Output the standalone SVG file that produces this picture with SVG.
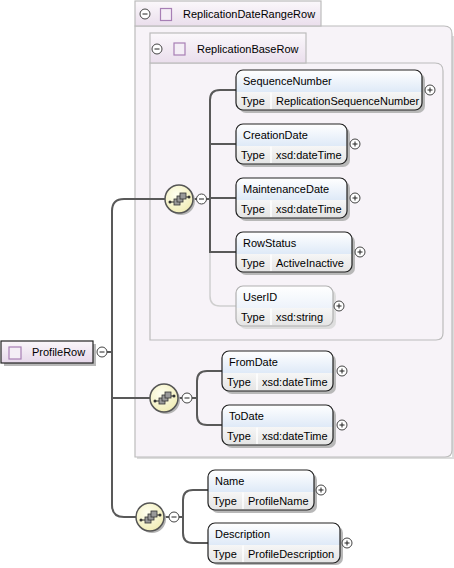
<svg xmlns="http://www.w3.org/2000/svg" width="454" height="568" viewBox="0 0 454 568">
<defs>
<linearGradient id="headG" x1="0" y1="0" x2="0" y2="1"><stop offset="0" stop-color="#ffffff"/><stop offset="1" stop-color="#c4d8f1"/></linearGradient>
<linearGradient id="headL" x1="0" y1="0" x2="0" y2="1"><stop offset="0" stop-color="#ffffff"/><stop offset="1" stop-color="#dfe9f7"/></linearGradient>
<linearGradient id="rowG" x1="0" y1="0" x2="0" y2="1"><stop offset="0" stop-color="#f6f6f6"/><stop offset="1" stop-color="#e4e4e4"/></linearGradient>
<linearGradient id="tabG" x1="0" y1="0" x2="0" y2="1"><stop offset="0" stop-color="#fbf8fb"/><stop offset="1" stop-color="#eadeec"/></linearGradient>
<linearGradient id="rootG" x1="0" y1="0" x2="0" y2="1"><stop offset="0" stop-color="#faf6fa"/><stop offset="1" stop-color="#e6d8ea"/></linearGradient>
<radialGradient id="seqG" cx="0.4" cy="0.35" r="0.7"><stop offset="0" stop-color="#fffff0"/><stop offset="1" stop-color="#f0ecb4"/></radialGradient>
<g id="seqIcon">
<circle cx="2" cy="2" r="14" fill="#b4b4b4"/>
<circle cx="0" cy="0" r="14" fill="url(#seqG)" stroke="#555" stroke-width="1.5"/>
<line x1="-9" y1="3" x2="-4" y2="3" stroke="#333" stroke-width="1"/>
<circle cx="-9" cy="3" r="1.5" fill="#333"/>
<rect x="-5" y="0" width="6" height="6" fill="#999" stroke="#333" stroke-width="0.8"/>
<rect x="-2" y="-3" width="6" height="6" fill="#999" stroke="#333" stroke-width="0.8"/>
<rect x="1" y="-6" width="6" height="6" fill="#999" stroke="#333" stroke-width="0.8"/>
<line x1="7" y1="-2" x2="10" y2="-2" stroke="#333" stroke-width="1"/>
<circle cx="10" cy="-2" r="1.5" fill="#333"/>
</g>
<g id="minus"><circle r="5" fill="#fff" stroke="#444" stroke-width="1"/><line x1="-2.5" y1="0" x2="2.5" y2="0" stroke="#222" stroke-width="1"/></g>
<g id="plus"><circle r="5" fill="#fff" stroke="#444" stroke-width="1"/><line x1="-2.5" y1="0" x2="2.5" y2="0" stroke="#222" stroke-width="1"/><line x1="0" y1="-2.5" x2="0" y2="2.5" stroke="#222" stroke-width="1"/></g>
</defs>
<style>
text{font-family:"Liberation Sans",Arial,sans-serif;font-size:11px;fill:#000}
.grp{fill:#f7f3f8;stroke:#bcbcbc;stroke-width:1.2}
.gsh{fill:none;stroke:#dcdcdc;stroke-width:2}
.tab{fill:url(#tabG);stroke:#bcbcbc;stroke-width:1.2}
.sq{fill:#f4eef6;stroke:#a77fb5;stroke-width:1.2}
.sh{fill:#b8b8b8}
.head{fill:url(#headG)}
.headL{fill:url(#headL)}
.row{fill:url(#rowG)}
.bd{fill:none;stroke:#222;stroke-width:1.2}
.bdL{fill:none;stroke:#b0b0b0;stroke-width:1.2}
.div{stroke:#fff;stroke-width:1.5}
.con{fill:none;stroke:#595959;stroke-width:2}
.conL{fill:none;stroke:#cfcfcf;stroke-width:1.5}
</style>

<g id="ReplicationDateRangeRow">
<path class="gsh" d="M453,36 V458 H137"/>
<path class="grp" d="M135,26 H444 Q452,26 452,34 V450 Q452,457 445,457 H135 Z"/>
<rect class="tab" x="135" y="1" width="186" height="25"/>
<use href="#minus" x="145" y="14"/>
<rect class="sq" x="160.5" y="8.5" width="11" height="12"/>
<text x="183" y="18">ReplicationDateRangeRow</text>
</g>

<g id="ReplicationBaseRow">
<path class="grp" d="M150,63 H435 Q443,63 443,71 V333 Q443,340 436,340 H150 Z"/>
<rect class="tab" x="150" y="33" width="156" height="30"/>
<use href="#minus" x="157" y="49"/>
<rect class="sq" x="174" y="43" width="11" height="12"/>
<text x="197" y="53">ReplicationBaseRow</text>
</g>

<g id="connectors">
<path class="con" d="M107,352 H112"/>
<path class="con" d="M165,199 H124 Q112,199 112,211 V505 Q112,517 124,517 H136"/>
<path class="con" d="M112,398 H150"/>
<path class="con" d="M193,199 H197 M206,199 H210"/>
<path class="con" d="M236,90 H220 Q210,90 210,100 V252 H236"/>
<path class="con" d="M210,144 H236 M210,198 H236"/>
<path class="conL" d="M210,253 V296 Q210,306 220,306 H236"/>
<path class="con" d="M178,398 H182 M192,398 H197"/>
<path class="con" d="M222,371 H207 Q197,371 197,381 V415 Q197,425 207,425 H222"/>
<path class="con" d="M164,517 H169 M179,517 H183"/>
<path class="con" d="M208,490 H193 Q183,490 183,500 V533 Q183,543 193,543 H208"/>
</g>

<g id="ProfileRow">
<rect class="sh" x="4" y="344" width="92" height="22"/>
<rect x="1" y="341" width="92" height="22" fill="url(#rootG)" stroke="#222" stroke-width="1.2"/>
<rect class="sq" x="9" y="347" width="12" height="12"/>
<text x="32" y="356">ProfileRow</text>
<use href="#minus" x="102" y="352"/>
</g>

<g id="seq1"><use href="#seqIcon" x="179" y="199"/><use href="#minus" x="201.5" y="199"/></g>
<g id="seq2"><use href="#seqIcon" x="164" y="398"/><use href="#minus" x="187" y="398"/></g>
<g id="seq3"><use href="#seqIcon" x="150" y="517"/><use href="#minus" x="174" y="517"/></g>

<g id="SequenceNumber">
<rect class="sh" x="239" y="73" width="186" height="40" rx="7"/>
<rect class="head" x="236" y="70" width="186" height="40" rx="7"/>
<path class="row" d="M236,92 H422 V103 Q422,110 415,110 H243 Q236,110 236,103 Z"/>
<line class="div" x1="271" y1="92.5" x2="271" y2="109"/>
<rect class="bd" x="236" y="70" width="186" height="40" rx="7"/>
<text x="243" y="84.5">SequenceNumber</text>
<text x="241" y="104.5">Type</text>
<text x="276" y="104.5">ReplicationSequenceNumber</text>
<use href="#plus" x="430" y="90"/>
</g>

<g id="CreationDate">
<rect class="sh" x="239" y="127" width="111" height="40" rx="7"/>
<rect class="head" x="236" y="124" width="111" height="40" rx="7"/>
<path class="row" d="M236,146 H347 V157 Q347,164 340,164 H243 Q236,164 236,157 Z"/>
<line class="div" x1="271" y1="146.5" x2="271" y2="163"/>
<rect class="bd" x="236" y="124" width="111" height="40" rx="7"/>
<text x="243" y="138.5">CreationDate</text>
<text x="241" y="158.5">Type</text>
<text x="276" y="158.5">xsd:dateTime</text>
<use href="#plus" x="355" y="144"/>
</g>

<g id="MaintenanceDate">
<rect class="sh" x="239" y="181" width="111" height="40" rx="7"/>
<rect class="head" x="236" y="178" width="111" height="40" rx="7"/>
<path class="row" d="M236,200 H347 V211 Q347,218 340,218 H243 Q236,218 236,211 Z"/>
<line class="div" x1="271" y1="200.5" x2="271" y2="217"/>
<rect class="bd" x="236" y="178" width="111" height="40" rx="7"/>
<text x="243" y="192.5">MaintenanceDate</text>
<text x="241" y="212.5">Type</text>
<text x="276" y="212.5">xsd:dateTime</text>
<use href="#plus" x="355" y="198"/>
</g>

<g id="RowStatus">
<rect class="sh" x="239" y="235" width="116" height="40" rx="7"/>
<rect class="head" x="236" y="232" width="116" height="40" rx="7"/>
<path class="row" d="M236,254 H352 V265 Q352,272 345,272 H243 Q236,272 236,265 Z"/>
<line class="div" x1="271" y1="254.5" x2="271" y2="271"/>
<rect class="bd" x="236" y="232" width="116" height="40" rx="7"/>
<text x="243" y="246.5">RowStatus</text>
<text x="241" y="266.5">Type</text>
<text x="276" y="266.5">ActiveInactive</text>
<use href="#plus" x="360" y="252"/>
</g>

<g id="UserID">
<rect x="239" y="289" width="97" height="40" rx="7" fill="#dedede"/>
<rect class="headL" x="236" y="286" width="97" height="40" rx="7"/>
<path class="row" d="M236,308 H333 V319 Q333,326 326,326 H243 Q236,326 236,319 Z"/>
<line class="div" x1="271" y1="308.5" x2="271" y2="325"/>
<rect class="bdL" x="236" y="286" width="97" height="40" rx="7"/>
<text x="243" y="300.5">UserID</text>
<text x="241" y="320.5">Type</text>
<text x="276" y="320.5">xsd:string</text>
<use href="#plus" x="339" y="306"/>
</g>

<g id="FromDate">
<rect class="sh" x="225" y="354" width="111" height="40" rx="7"/>
<rect class="head" x="222" y="351" width="111" height="40" rx="7"/>
<path class="row" d="M222,373 H333 V384 Q333,391 326,391 H229 Q222,391 222,384 Z"/>
<line class="div" x1="257" y1="373.5" x2="257" y2="390"/>
<rect class="bd" x="222" y="351" width="111" height="40" rx="7"/>
<text x="229" y="365.5">FromDate</text>
<text x="227" y="385.5">Type</text>
<text x="262" y="385.5">xsd:dateTime</text>
<use href="#plus" x="342" y="371"/>
</g>

<g id="ToDate">
<rect class="sh" x="225" y="408" width="111" height="40" rx="7"/>
<rect class="head" x="222" y="405" width="111" height="40" rx="7"/>
<path class="row" d="M222,427 H333 V438 Q333,445 326,445 H229 Q222,445 222,438 Z"/>
<line class="div" x1="257" y1="427.5" x2="257" y2="444"/>
<rect class="bd" x="222" y="405" width="111" height="40" rx="7"/>
<text x="229" y="419.5">ToDate</text>
<text x="227" y="439.5">Type</text>
<text x="262" y="439.5">xsd:dateTime</text>
<use href="#plus" x="342" y="425"/>
</g>

<g id="Name">
<rect class="sh" x="211" y="473" width="106" height="40" rx="7"/>
<rect class="head" x="208" y="470" width="106" height="40" rx="7"/>
<path class="row" d="M208,492 H314 V503 Q314,510 307,510 H215 Q208,510 208,503 Z"/>
<line class="div" x1="243" y1="492.5" x2="243" y2="509"/>
<rect class="bd" x="208" y="470" width="106" height="40" rx="7"/>
<text x="215" y="484.5">Name</text>
<text x="213" y="504.5">Type</text>
<text x="248" y="504.5">ProfileName</text>
<use href="#plus" x="321" y="490"/>
</g>

<g id="Description">
<rect class="sh" x="211" y="526" width="132" height="39" rx="7"/>
<rect class="head" x="208" y="523" width="132" height="40" rx="7"/>
<path class="row" d="M208,545 H340 V556 Q340,563 333,563 H215 Q208,563 208,556 Z"/>
<line class="div" x1="243" y1="545.5" x2="243" y2="562"/>
<rect class="bd" x="208" y="523" width="132" height="40" rx="7"/>
<text x="215" y="537.5">Description</text>
<text x="213" y="557.5">Type</text>
<text x="248" y="557.5">ProfileDescription</text>
<use href="#plus" x="347" y="543"/>
</g>
</svg>
